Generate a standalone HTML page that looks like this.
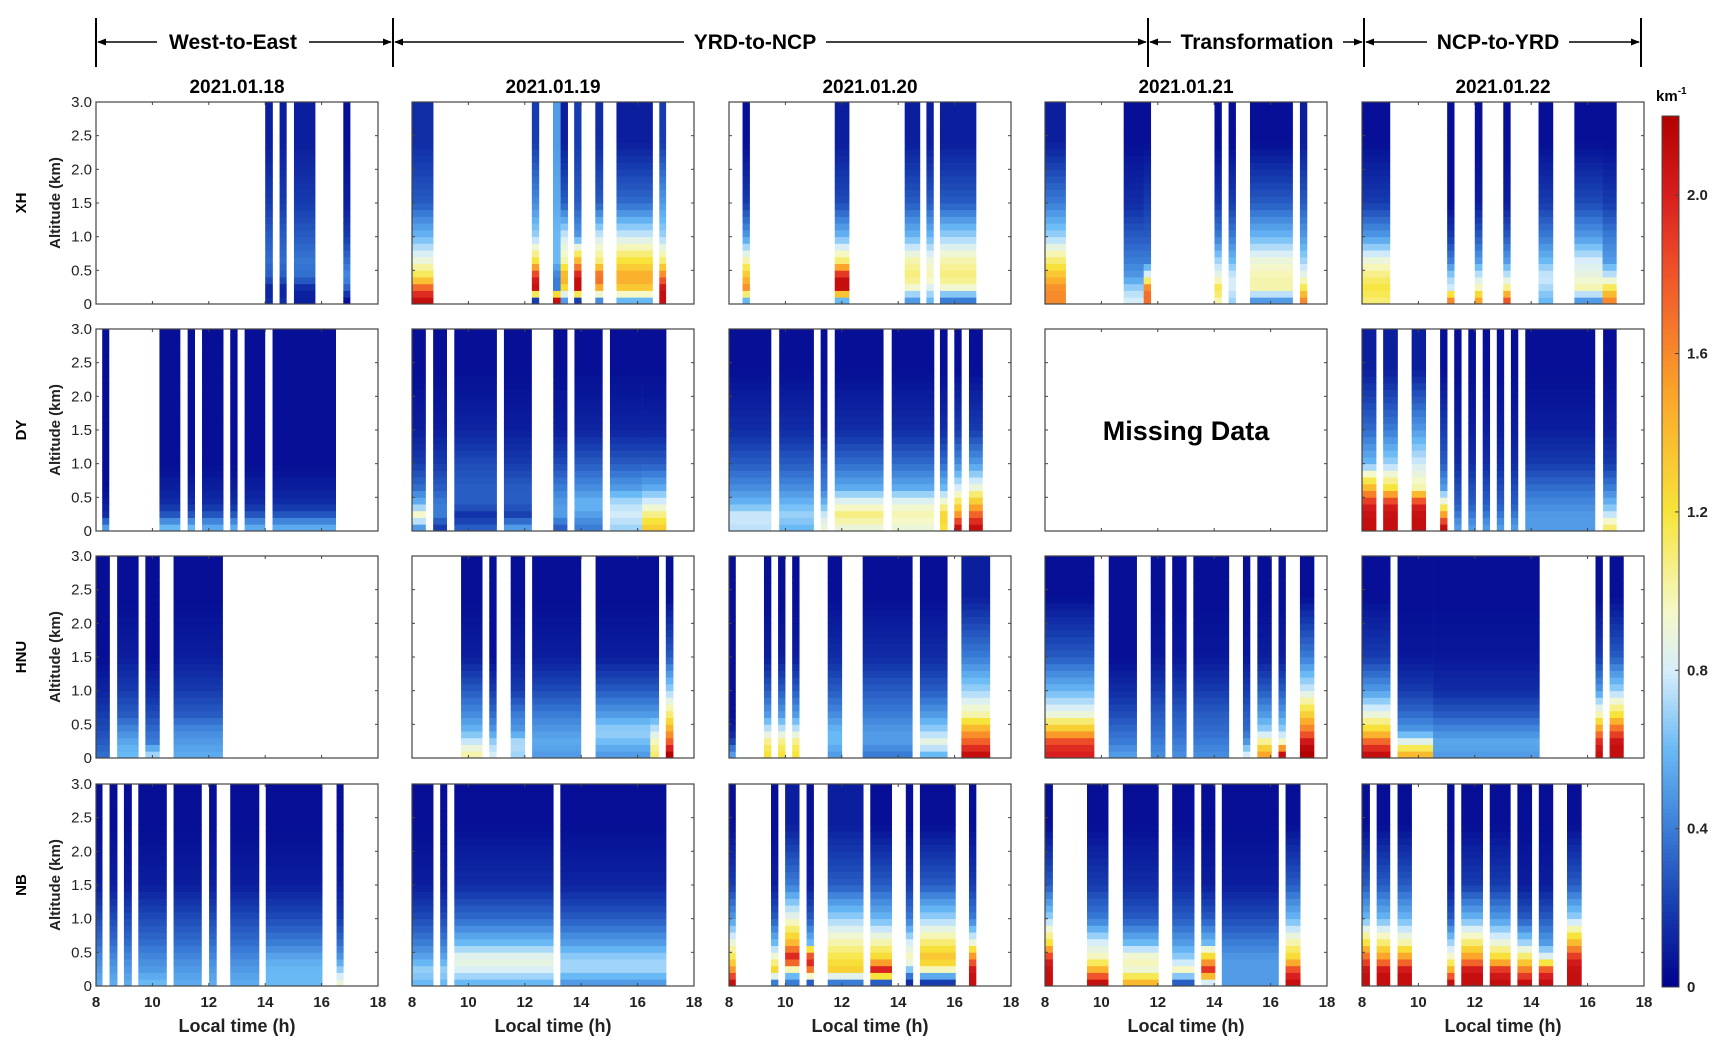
<!DOCTYPE html>
<html><head><meta charset="utf-8">
<style>
html,body{margin:0;padding:0;background:#fff;}
svg{display:block;font-family:"Liberation Sans",sans-serif;}
</style></head>
<body>
<svg id="fig" width="1725" height="1052" viewBox="0 0 1725 1052" xmlns="http://www.w3.org/2000/svg">
  <g id="layer-top"></g>
  <g id="layer-panels"></g>
  <g id="layer-cbar"></g>
</svg>
<script>
// ---------- DATA (time intervals [start h, end h, extinction by altitude band]) ----------
const dates = ["2021.01.18","2021.01.19","2021.01.20","2021.01.21","2021.01.22"];
const sites = ["XH","DY","HNU","NB"];
const bandCenters = [0.075,0.225,0.4,0.65,1.0,1.5,2.4];
const xTicks = [8,10,12,14,16,18];
const yTicks = [0,0.5,1.0,1.5,2.0,2.5,3.0];
const yTickLabels = ["0","0.5","1.0","1.5","2.0","2.5","3.0"];
const cbarTicks = [0,0.4,0.8,1.2,1.6,2.0];
const cbarTickLabels = ["0","0.4","0.8","1.2","1.6","2.0"];

const xh18 = [[14.0,14.26,[0.15,0.1,0.3,0.35,0.3,0.2,0.1]],[14.51,14.75,[0.15,0.1,0.3,0.35,0.3,0.2,0.1]],[15.02,15.77,[0.1,0.12,0.35,0.38,0.3,0.2,0.1]],[16.77,17.01,[0.05,0.3,0.45,0.35,0.2,0.1,0.05]]];
const xh19 = [[8.0,8.75,[2.1,1.8,1.2,0.9,0.6,0.3,0.15]],[12.25,12.5,[0.2,2.1,2.0,1.2,0.7,0.45,0.2]],[13.0,13.27,[2.1,0.4,0.4,0.6,0.6,0.55,0.5]],[13.27,13.52,[0.5,1.2,1.5,1.0,0.8,0.3,0.1]],[13.75,14.0,[0.2,2.1,2.1,1.4,0.5,0.3,0.2]],[14.5,14.77,[0.45,1.4,1.8,1.1,0.8,0.3,0.15]],[15.25,16.53,[0.6,1.3,1.5,1.2,0.8,0.35,0.1]],[16.77,17.0,[2.1,2.1,1.7,1.1,0.7,0.5,0.2]]];
const xh20 = [[8.48,8.73,[0.6,1.6,1.4,1.0,0.5,0.2,0.05]],[11.75,12.26,[0.6,2.1,2.1,1.1,0.6,0.25,0.1]],[14.23,14.77,[0.5,0.9,1.1,1.0,0.6,0.3,0.1]],[15.0,15.25,[0.6,0.8,1.0,0.9,0.6,0.3,0.1]],[15.48,16.76,[0.4,0.9,1.1,1.0,0.7,0.3,0.1]]];
const xh21 = [[8.0,8.73,[1.6,1.6,1.4,1.1,0.7,0.4,0.1]],[10.79,11.5,[0.8,0.7,0.5,0.4,0.3,0.15,0.05]],[11.5,11.75,[1.7,1.7,0.9,0.4,0.3,0.2,0.05]],[14.01,14.26,[1.0,1.2,0.9,0.7,0.4,0.2,0.05]],[14.51,14.76,[0.7,0.8,0.8,0.6,0.4,0.2,0.05]],[15.27,16.78,[0.5,1.0,1.0,0.9,0.6,0.3,0.05]],[17.04,17.29,[1.6,1.2,0.9,0.7,0.5,0.3,0.1]]];
const xh22 = [[8.0,8.99,[1.1,1.2,1.1,0.9,0.5,0.2,0.05]],[11.02,11.27,[1.6,0.8,0.7,0.4,0.2,0.05,0.05]],[12.0,12.26,[1.5,1.0,0.8,0.5,0.3,0.1,0.05]],[13.01,13.26,[1.8,1.1,0.8,0.5,0.3,0.1,0.05]],[14.26,14.77,[0.6,0.7,0.8,0.6,0.4,0.2,0.05]],[15.53,16.53,[0.5,1.0,0.9,0.8,0.5,0.25,0.05]],[16.53,17.02,[1.6,1.2,0.8,0.5,0.4,0.2,0.05]]];

const dy18 = [[8.22,8.46,[0.5,0.15,0.1,0.05,0.05,0.05,0.05]],[10.25,10.98,[0.6,0.3,0.15,0.1,0.05,0.05,0.05]],[11.25,11.5,[0.6,0.3,0.15,0.1,0.05,0.05,0.05]],[11.76,12.51,[0.55,0.3,0.15,0.1,0.05,0.05,0.05]],[12.76,13.01,[0.55,0.3,0.15,0.1,0.05,0.05,0.05]],[13.27,13.99,[0.55,0.3,0.15,0.1,0.05,0.05,0.05]],[14.26,16.5,[0.55,0.3,0.15,0.1,0.05,0.05,0.05]]];
const dy19 = [[8.0,8.48,[0.5,1.0,0.6,0.35,0.2,0.1,0.05]],[8.75,9.23,[0.2,0.4,0.4,0.3,0.2,0.1,0.05]],[9.5,11.0,[0.3,0.15,0.3,0.3,0.25,0.12,0.05]],[11.26,12.24,[0.5,0.2,0.3,0.3,0.2,0.1,0.05]],[13.01,13.5,[0.3,0.5,0.5,0.4,0.25,0.1,0.05]],[13.76,14.75,[0.4,0.5,0.6,0.45,0.3,0.12,0.05]],[15.02,16.16,[0.7,0.8,0.75,0.5,0.3,0.12,0.05]],[16.16,17.01,[1.3,1.1,0.85,0.55,0.3,0.12,0.05]]];
const dy20 = [[8.0,9.49,[0.75,0.8,0.6,0.45,0.3,0.15,0.05]],[9.78,11.0,[0.6,0.7,0.6,0.45,0.3,0.15,0.05]],[11.25,11.48,[0.9,0.8,0.6,0.4,0.3,0.1,0.05]],[11.75,13.47,[0.9,1.1,0.9,0.55,0.35,0.15,0.05]],[13.77,15.27,[0.9,1.0,0.9,0.55,0.35,0.15,0.05]],[15.48,15.74,[1.2,1.3,1.0,0.6,0.35,0.15,0.05]],[15.99,16.24,[2.1,1.6,1.2,0.8,0.45,0.2,0.05]],[16.51,16.99,[2.1,1.8,1.4,0.9,0.5,0.2,0.05]]];
const dy21 = null;
const dy22 = [[8.0,8.5,[2.1,2.1,2.0,1.4,0.6,0.35,0.1]],[8.75,9.26,[2.1,2.1,2.0,1.2,0.7,0.4,0.1]],[9.76,10.26,[2.1,2.1,2.0,1.0,0.8,0.5,0.1]],[10.77,11.02,[2.1,1.6,1.0,0.5,0.3,0.2,0.05]],[11.27,11.52,[0.5,0.4,0.3,0.25,0.15,0.1,0.05]],[11.77,12.03,[0.5,0.4,0.3,0.25,0.15,0.1,0.05]],[12.28,12.53,[0.5,0.4,0.3,0.25,0.15,0.1,0.05]],[12.78,13.03,[0.5,0.4,0.3,0.25,0.15,0.1,0.05]],[13.28,13.53,[0.5,0.4,0.3,0.25,0.15,0.1,0.05]],[13.79,16.26,[0.5,0.5,0.45,0.35,0.2,0.1,0.05]],[16.55,17.02,[1.1,0.8,0.6,0.4,0.2,0.1,0.05]]];

const hnu18 = [[8.0,8.48,[0.35,0.3,0.25,0.2,0.12,0.05,0.05]],[8.75,9.5,[0.6,0.55,0.45,0.3,0.2,0.1,0.05]],[9.75,10.25,[0.7,0.4,0.35,0.25,0.15,0.05,0.05]],[10.75,12.49,[0.55,0.5,0.45,0.3,0.2,0.1,0.05]]];
const hnu19 = [[9.74,10.49,[1.0,0.8,0.6,0.45,0.3,0.1,0.05]],[10.74,10.99,[0.8,0.7,0.5,0.35,0.2,0.05,0.05]],[11.5,12.0,[0.7,0.75,0.5,0.4,0.2,0.1,0.05]],[12.26,13.99,[0.5,0.55,0.5,0.4,0.25,0.1,0.05]],[14.51,16.45,[0.5,0.6,0.7,0.5,0.3,0.1,0.05]],[16.45,16.75,[1.1,1.0,0.8,0.5,0.3,0.1,0.05]],[17.0,17.26,[2.2,1.8,1.5,1.1,0.7,0.3,0.05]]];
const hnu20 = [[8.0,8.23,[0.5,0.25,0.1,0.05,0.05,0.05,0.05]],[9.24,9.49,[1.2,1.1,0.8,0.5,0.3,0.1,0.05]],[9.74,9.99,[1.2,1.1,0.8,0.5,0.3,0.1,0.05]],[10.24,10.49,[1.2,1.1,0.8,0.5,0.3,0.1,0.05]],[11.5,12.0,[0.5,0.6,0.6,0.45,0.3,0.15,0.05]],[12.74,14.5,[0.4,0.5,0.5,0.4,0.3,0.15,0.05]],[14.77,15.74,[0.6,0.9,0.7,0.5,0.3,0.15,0.05]],[16.24,17.25,[2.1,1.8,1.5,1.0,0.7,0.4,0.1]]];
const hnu21 = [[8.0,9.74,[2.0,1.9,1.4,0.9,0.6,0.3,0.05]],[10.26,11.25,[0.5,0.4,0.35,0.25,0.15,0.05,0.05]],[11.75,12.26,[0.45,0.4,0.35,0.3,0.2,0.08,0.05]],[12.51,13.01,[0.45,0.4,0.35,0.3,0.2,0.08,0.05]],[13.26,14.52,[0.45,0.4,0.35,0.3,0.2,0.08,0.05]],[15.02,15.27,[0.8,0.5,0.35,0.3,0.2,0.08,0.05]],[15.53,16.03,[1.5,1.1,0.7,0.5,0.3,0.1,0.05]],[16.28,16.53,[2.1,1.0,0.7,0.5,0.3,0.1,0.05]],[17.04,17.54,[2.2,2.1,1.7,1.3,0.8,0.4,0.05]]];
const hnu22 = [[8.0,9.0,[2.1,1.8,1.3,0.9,0.5,0.2,0.05]],[9.26,10.52,[1.4,0.9,0.5,0.35,0.2,0.08,0.05]],[10.52,14.29,[0.5,0.55,0.45,0.3,0.15,0.08,0.05]],[16.28,16.53,[2.1,2.0,1.6,1.0,0.5,0.2,0.05]],[16.78,17.27,[2.1,2.1,1.8,1.2,0.7,0.3,0.05]]];

const nb18 = [[8.0,8.22,[0.55,0.5,0.45,0.35,0.25,0.1,0.05]],[8.48,8.75,[0.55,0.5,0.45,0.35,0.25,0.1,0.05]],[8.99,9.26,[0.55,0.5,0.45,0.35,0.25,0.1,0.05]],[9.5,10.5,[0.6,0.5,0.45,0.35,0.25,0.1,0.05]],[10.75,11.74,[0.55,0.5,0.45,0.35,0.25,0.1,0.05]],[12.01,12.27,[0.55,0.5,0.45,0.35,0.25,0.1,0.05]],[12.76,13.78,[0.55,0.5,0.45,0.35,0.25,0.1,0.05]],[14.02,16.02,[0.6,0.6,0.55,0.4,0.25,0.1,0.05]],[16.53,16.77,[0.9,0.7,0.5,0.35,0.2,0.1,0.05]]];
const nb19 = [[8.0,8.75,[0.6,0.7,0.55,0.4,0.25,0.1,0.05]],[9.0,9.24,[0.6,0.7,0.55,0.4,0.25,0.1,0.05]],[9.5,13.01,[0.6,0.8,0.9,0.6,0.35,0.15,0.05]],[13.26,17.01,[0.5,0.7,0.7,0.5,0.3,0.12,0.05]]];
const nb20 = [[8.0,8.23,[2.1,1.6,1.2,0.9,0.5,0.2,0.05]],[9.49,9.74,[0.4,1.3,1.0,0.6,0.3,0.1,0.05]],[9.99,10.49,[0.4,0.8,2.1,1.4,0.9,0.4,0.1]],[10.75,11.0,[0.3,1.6,2.1,0.6,0.3,0.1,0.05]],[11.5,12.76,[0.4,1.3,1.2,1.0,0.7,0.3,0.1]],[13.01,13.77,[0.3,2.1,1.3,1.0,0.6,0.3,0.05]],[14.27,14.52,[0.15,0.6,1.0,0.8,0.4,0.2,0.05]],[14.77,16.03,[0.2,0.9,1.4,1.1,0.7,0.3,0.05]],[16.51,16.76,[2.1,2.1,1.7,0.9,0.4,0.2,0.05]]];
const nb21 = [[8.0,8.27,[2.1,2.1,2.0,1.2,0.7,0.3,0.05]],[9.49,10.24,[2.1,1.5,1.0,0.8,0.4,0.2,0.05]],[10.76,12.02,[1.4,0.9,1.0,0.6,0.3,0.15,0.05]],[12.51,13.29,[0.3,1.0,0.7,0.5,0.3,0.15,0.05]],[13.54,14.03,[0.8,2.0,1.4,0.6,0.3,0.1,0.05]],[14.27,16.28,[0.5,0.5,0.5,0.4,0.25,0.1,0.05]],[16.53,17.05,[2.1,1.9,1.3,1.0,0.6,0.3,0.05]]];
const nb22 = [[8.0,8.27,[2.1,2.1,1.8,1.2,0.6,0.3,0.05]],[8.52,8.99,[2.1,2.1,1.6,1.1,0.6,0.3,0.05]],[9.26,9.76,[2.1,2.1,1.6,1.0,0.6,0.3,0.05]],[11.02,11.27,[2.1,1.5,1.0,0.7,0.3,0.1,0.05]],[11.52,12.28,[2.1,2.1,1.6,1.1,0.6,0.2,0.05]],[12.53,13.26,[2.1,2.0,1.3,0.9,0.5,0.2,0.05]],[13.51,14.02,[2.1,1.7,1.2,0.7,0.3,0.1,0.05]],[14.27,14.77,[2.1,1.9,0.9,0.5,0.3,0.1,0.05]],[15.27,15.78,[2.1,2.1,2.0,1.4,0.7,0.3,0.05]]];

const grid = [
  [xh18,xh19,xh20,xh21,xh22],
  [dy18,dy19,dy20,dy21,dy22],
  [hnu18,hnu19,hnu20,hnu21,hnu22],
  [nb18,nb19,nb20,nb21,nb22]
];

// ---------- LAYOUT ----------
const NS = "http://www.w3.org/2000/svg";
const colLeft = [96,412,729,1045,1362];
const rowTop = [102,329,556,784];
const PW = 282, PH = 202;
const T0 = 8, T1 = 18, ZMAX = 3, VMAX = 2.2;
const cmapStops = [[0,[0,0,140]],[0.2,[22,60,175]],[0.4,[58,125,215]],[0.6,[105,185,245]],[0.8,[215,238,250]],[0.95,[245,248,200]],[1.2,[247,228,58]],[1.5,[251,165,42]],[1.8,[240,84,42]],[2.0,[216,30,30]],[2.2,[178,0,0]]];

function color(v){
  if(v<=0) v=0; if(v>=VMAX) v=VMAX;
  for(let i=1;i<cmapStops.length;i++){
    const a=cmapStops[i-1], b=cmapStops[i];
    if(v<=b[0]){
      const f=(v-a[0])/(b[0]-a[0]);
      const c=a[1].map((x,k)=>Math.round(x+(b[1][k]-x)*f));
      return `rgb(${c[0]},${c[1]},${c[2]})`;
    }
  }
  return "rgb(178,0,0)";
}
function xScale(c,t){ return colLeft[c] + (t-T0)/(T1-T0)*PW; }
function yScale(r,z){ return rowTop[r] + PH - z/ZMAX*PH; }
function profileAt(vals,z){
  if(z<=bandCenters[0]) return vals[0];
  for(let i=1;i<bandCenters.length;i++){
    if(z<=bandCenters[i]){
      const f=(z-bandCenters[i-1])/(bandCenters[i]-bandCenters[i-1]);
      return vals[i-1]+(vals[i]-vals[i-1])*f;
    }
  }
  return vals[vals.length-1];
}
function mk(tag, attrs, parent){
  const e=document.createElementNS(NS,tag);
  for(const k in attrs) e.setAttribute(k,attrs[k]);
  parent.appendChild(e); return e;
}

const topG = document.getElementById("layer-top");
const panelsG = document.getElementById("layer-panels");
const cbarG = document.getElementById("layer-cbar");

// ---------- phase annotations ----------
const phaseBars = [96,393,1148,1364,1641];
const phaseNames = ["West-to-East","YRD-to-NCP","Transformation","NCP-to-YRD"];
const phaseTextX = [233,755,1257,1498];
const phaseTextW = [140,130,160,130];
const defs = mk("defs",{},topG);
const mkr = mk("marker",{id:"ah",viewBox:"0 0 10 10",refX:"9",refY:"5",markerWidth:"9",markerHeight:"9",orient:"auto-start-reverse",markerUnits:"userSpaceOnUse"},defs);
mk("path",{d:"M0,1 L10,5 L0,9 z",fill:"#000"},mkr);
phaseBars.forEach((x)=>{
  const l=mk("line",{x1:x,y1:18,x2:x,y2:67,stroke:"#000","stroke-width":2},topG);
  
  
});
phaseNames.forEach((n,i)=>{
  const a=phaseBars[i]+2, b=phaseBars[i+1]-2, cx=phaseTextX[i], hw=phaseTextW[i]/2;
  const l1=mk("line",{x1:cx-hw-6,y1:42,x2:a,y2:42,stroke:"#000","stroke-width":1.6,"marker-end":"url(#ah)"},topG);
  
  
  const l2=mk("line",{x1:cx+hw+6,y1:42,x2:b,y2:42,stroke:"#000","stroke-width":1.6,"marker-end":"url(#ah)"},topG);
  
  
  const t=mk("text",{x:cx,y:49,"text-anchor":"middle","font-size":21,"font-weight":"bold",fill:"#000"},topG);
  t.textContent=n;
  
  
});

// ---------- panels ----------
dates.forEach((d,c)=>{
  const t=mk("text",{x:colLeft[c]+PW/2,y:93,"text-anchor":"middle","font-size":19,"font-weight":"bold",fill:"#000"},panelsG);
  t.textContent=d;
  
  
});
sites.forEach((s,r)=>{
  const cy=rowTop[r]+PH/2;
  const t=mk("text",{x:0,y:0,"text-anchor":"middle","font-size":15,"font-weight":"bold",fill:"#000",transform:`translate(26,${cy}) rotate(-90)`},panelsG);
  t.textContent=s;
  
  
  const a=mk("text",{x:0,y:0,"text-anchor":"middle","font-size":15,"font-weight":"bold",fill:"#222",transform:`translate(60,${cy}) rotate(-90)`},panelsG);
  a.textContent="Altitude (km)";
  
  
});

for(let r=0;r<4;r++){
  for(let c=0;c<5;c++){
    const g=mk("g",{},panelsG);
    
    
    const data=grid[r][c];
    if(data){
      data.forEach(iv=>{
        const x0=xScale(c,iv[0]), x1=xScale(c,Math.min(iv[1],T1));
        for(let k=0;k<30;k++){
          const z0=k*0.1, z1=(k+1)*0.1;
          const v=profileAt(iv[2],(z0+z1)/2);
          const cell=mk("rect",{x:x0.toFixed(2),y:yScale(r,z1).toFixed(2),width:(x1-x0+0.3).toFixed(2),height:(PH/30+0.4).toFixed(2),fill:color(v)},g);
          
          
        }
      });
    } else {
      const m=mk("text",{x:colLeft[c]+PW/2,y:rowTop[r]+PH/2+10,"text-anchor":"middle","font-size":27,"font-weight":"bold",fill:"#000"},g);
      m.textContent="Missing Data";
      
      
    }
    const box=mk("rect",{x:colLeft[c],y:rowTop[r],width:PW,height:PH,fill:"none",stroke:"#444","stroke-width":1.2},g);
    
    
    yTicks.forEach((z,i)=>{
      const y=yScale(r,z);
      mk("line",{x1:colLeft[c],y1:y,x2:colLeft[c]+3,y2:y,stroke:"#444","stroke-width":1},g);
      mk("line",{x1:colLeft[c]+PW,y1:y,x2:colLeft[c]+PW-3,y2:y,stroke:"#444","stroke-width":1},g);
      if(c===0){
        const t=mk("text",{x:colLeft[c]-4,y:y+5,"text-anchor":"end","font-size":15,fill:"#222"},g);
        t.textContent=yTickLabels[i];
        
        
      }
    });
    xTicks.forEach((tv)=>{
      const x=xScale(c,tv);
      mk("line",{x1:x,y1:rowTop[r]+PH,x2:x,y2:rowTop[r]+PH-3,stroke:"#444","stroke-width":1},g);
      mk("line",{x1:x,y1:rowTop[r],x2:x,y2:rowTop[r]+3,stroke:"#444","stroke-width":1},g);
      if(r===3){
        const t=mk("text",{x:x,y:1007,"text-anchor":"middle","font-size":15,"font-weight":"bold",fill:"#222"},g);
        t.textContent=String(tv);
        
        
      }
    });
    if(r===3){
      const t=mk("text",{x:colLeft[c]+PW/2,y:1032,"text-anchor":"middle","font-size":18,"font-weight":"bold",fill:"#222"},g);
      t.textContent="Local time (h)";
      
      
    }
  }
}

// ---------- colorbar ----------
const cbX=1662, cbW=17, cbTop=116, cbBot=987;
function cbY(v){ return cbBot-(v/VMAX)*(cbBot-cbTop); }
for(let i=0;i<220;i++){
  const v0=i*VMAX/220, v1=(i+1)*VMAX/220;
  const s=mk("rect",{x:cbX,y:cbY(v1).toFixed(2),width:cbW,height:(cbY(v0)-cbY(v1)+0.5).toFixed(2),fill:color((v0+v1)/2)},cbarG);
  
  
}
mk("rect",{x:cbX,y:cbTop,width:cbW,height:cbBot-cbTop,fill:"none",stroke:"#444","stroke-width":1},cbarG);
cbarTicks.forEach((v,i)=>{
  const y=cbY(v);
  mk("line",{x1:cbX+cbW,y1:y,x2:cbX+cbW-4,y2:y,stroke:"#444","stroke-width":1},cbarG);
  const t=mk("text",{x:cbX+cbW+8,y:y+5,"font-size":15,"font-weight":"bold",fill:"#222"},cbarG);
  t.textContent=cbarTickLabels[i];
  
  
});
const unitLabel=mk("text",{x:1656,y:101,"font-size":15,"font-weight":"bold",fill:"#000"},cbarG);


unitLabel.innerHTML='km<tspan dy="-7" font-size="10">-1</tspan>';
</script>
</body></html>
